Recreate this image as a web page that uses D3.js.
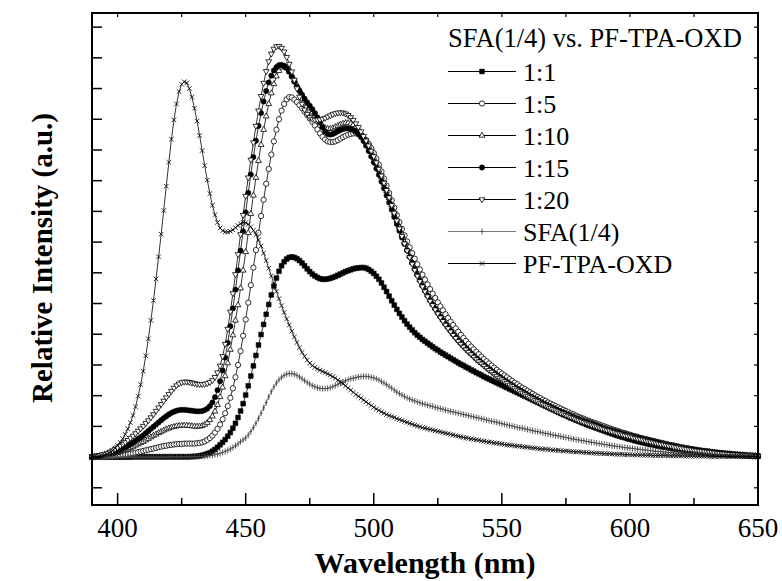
<!DOCTYPE html>
<html>
<head>
<meta charset="utf-8">
<script src="https://cdn.jsdelivr.net/npm/d3@7"></script>
<style>
  body { margin: 0; background: #fff; }
  text { font-family: "Liberation Serif", "Times New Roman", serif; fill: #000; }
</style>
</head>
<body>
<svg id="chart" width="782" height="581"></svg>
<script>
// sampling grid of the spectra, 1 nm
var wavelength = d3.range(390, 651);

// 1:1 (filled squares)
var r1 = [
  0, 0, 0, 0, 0, 0, 0, 0, 0, 0,
  0, 0, 0, 0, 0, 0, 0.01, 0.01, 0.01, 0.01,
  0.01, 0.01, 0.01, 0.01, 0.01, 0.01, 0.01, 0.01, 0.01, 0.01,
  0.01, 0.01, 0.01, 0.01, 0.01, 0.01, 0.01, 0.01, 0.01, 0.02,
  0.02, 0.03, 0.04, 0.06, 0.08, 0.11, 0.14, 0.19, 0.25, 0.32,
  0.4, 0.48, 0.57, 0.68, 0.8, 0.94, 1.1, 1.29, 1.5, 1.74,
  2.02, 2.32, 2.64, 2.97, 3.31, 3.65, 3.99, 4.32, 4.65, 4.97,
  5.28, 5.57, 5.83, 6.05, 6.23, 6.36, 6.45, 6.5, 6.52, 6.5,
  6.46, 6.4, 6.32, 6.23, 6.13, 6.04, 5.96, 5.9, 5.85, 5.81,
  5.79, 5.79, 5.8, 5.82, 5.85, 5.88, 5.92, 5.96, 6.0, 6.04,
  6.07, 6.1, 6.13, 6.15, 6.16, 6.17, 6.17, 6.15, 6.11, 6.05,
  5.98, 5.89, 5.79, 5.67, 5.53, 5.39, 5.24, 5.09, 4.95, 4.81,
  4.68, 4.56, 4.44, 4.33, 4.23, 4.14, 4.05, 3.97, 3.9, 3.83,
  3.77, 3.71, 3.65, 3.59, 3.53, 3.48, 3.42, 3.37, 3.32, 3.27,
  3.22, 3.17, 3.12, 3.07, 3.02, 2.98, 2.93, 2.89, 2.84, 2.8,
  2.75, 2.71, 2.67, 2.62, 2.58, 2.54, 2.5, 2.46, 2.42, 2.38,
  2.34, 2.3, 2.26, 2.22, 2.18, 2.14, 2.1, 2.06, 2.02, 1.98,
  1.94, 1.9, 1.86, 1.82, 1.78, 1.74, 1.7, 1.66, 1.62, 1.58,
  1.54, 1.5, 1.46, 1.42, 1.38, 1.35, 1.31, 1.27, 1.24, 1.2,
  1.17, 1.13, 1.1, 1.06, 1.03, 1.0, 0.97, 0.94, 0.91, 0.88,
  0.85, 0.82, 0.79, 0.76, 0.73, 0.7, 0.68, 0.65, 0.63, 0.6,
  0.58, 0.56, 0.53, 0.51, 0.49, 0.47, 0.45, 0.43, 0.41, 0.4,
  0.38, 0.36, 0.35, 0.33, 0.32, 0.3, 0.29, 0.27, 0.26, 0.25,
  0.24, 0.22, 0.21, 0.2, 0.19, 0.18, 0.17, 0.16, 0.15, 0.15,
  0.14, 0.13, 0.12, 0.12, 0.11, 0.1, 0.1, 0.09, 0.08, 0.08,
  0.07, 0.07, 0.06, 0.06, 0.05, 0.05, 0.05, 0.04, 0.04, 0.03,
  0.03
];

// 1:5 (open circles)
var r5 = [
  0, 0, 0.01, 0.01, 0.01, 0.02, 0.02, 0.03, 0.03, 0.04,
  0.05, 0.06, 0.07, 0.08, 0.09, 0.11, 0.12, 0.14, 0.16, 0.18,
  0.2, 0.22, 0.24, 0.26, 0.28, 0.3, 0.32, 0.34, 0.36, 0.37,
  0.39, 0.4, 0.41, 0.42, 0.43, 0.43, 0.44, 0.44, 0.44, 0.44,
  0.44, 0.45, 0.46, 0.48, 0.51, 0.56, 0.62, 0.7, 0.8, 0.92,
  1.06, 1.23, 1.43, 1.66, 1.93, 2.24, 2.6, 3.0, 3.45, 3.95,
  4.48, 5.03, 5.6, 6.17, 6.74, 7.3, 7.85, 8.38, 8.9, 9.38,
  9.85, 10.28, 10.66, 11.0, 11.28, 11.5, 11.65, 11.72, 11.71, 11.64,
  11.56, 11.46, 11.36, 11.25, 11.14, 11.03, 10.92, 10.8, 10.67, 10.54,
  10.43, 10.34, 10.28, 10.26, 10.26, 10.28, 10.32, 10.37, 10.42, 10.46,
  10.5, 10.52, 10.54, 10.54, 10.52, 10.48, 10.41, 10.32, 10.2, 10.06,
  9.9, 9.72, 9.52, 9.3, 9.07, 8.84, 8.6, 8.36, 8.12, 7.88,
  7.65, 7.43, 7.22, 7.02, 6.83, 6.64, 6.46, 6.28, 6.11, 5.94,
  5.78, 5.62, 5.47, 5.32, 5.18, 5.04, 4.91, 4.78, 4.65, 4.53,
  4.41, 4.3, 4.19, 4.08, 3.98, 3.88, 3.78, 3.69, 3.6, 3.51,
  3.43, 3.35, 3.27, 3.19, 3.12, 3.05, 2.98, 2.91, 2.84, 2.78,
  2.72, 2.66, 2.6, 2.54, 2.48, 2.42, 2.37, 2.31, 2.26, 2.21,
  2.16, 2.11, 2.06, 2.01, 1.96, 1.92, 1.87, 1.83, 1.78, 1.74,
  1.7, 1.66, 1.62, 1.58, 1.54, 1.5, 1.46, 1.42, 1.39, 1.35,
  1.31, 1.28, 1.25, 1.21, 1.18, 1.15, 1.12, 1.09, 1.06, 1.03,
  1.0, 0.97, 0.94, 0.91, 0.88, 0.86, 0.83, 0.8, 0.78, 0.75,
  0.73, 0.7, 0.68, 0.66, 0.63, 0.61, 0.59, 0.57, 0.55, 0.53,
  0.51, 0.49, 0.47, 0.45, 0.43, 0.41, 0.39, 0.38, 0.36, 0.34,
  0.32, 0.31, 0.29, 0.28, 0.26, 0.25, 0.24, 0.22, 0.21, 0.2,
  0.19, 0.18, 0.16, 0.15, 0.14, 0.13, 0.13, 0.12, 0.11, 0.1,
  0.09, 0.09, 0.08, 0.07, 0.07, 0.06, 0.05, 0.05, 0.04, 0.04,
  0.03
];

// 1:10 (open up-triangles)
var r10 = [
  0.01, 0.01, 0.02, 0.03, 0.04, 0.05, 0.06, 0.08, 0.1, 0.12,
  0.14, 0.17, 0.2, 0.23, 0.26, 0.3, 0.34, 0.38, 0.42, 0.46,
  0.5, 0.55, 0.6, 0.65, 0.7, 0.74, 0.79, 0.83, 0.87, 0.91,
  0.94, 0.97, 0.99, 1.01, 1.02, 1.03, 1.03, 1.03, 1.02, 1.01,
  1.0, 1.0, 1.0, 1.02, 1.06, 1.12, 1.21, 1.33, 1.49, 1.7,
  1.96, 2.27, 2.64, 3.06, 3.5, 3.97, 4.45, 4.95, 5.5, 6.08,
  6.68, 7.3, 7.92, 8.52, 9.1, 9.65, 10.17, 10.66, 11.1, 11.5,
  11.85, 12.15, 12.4, 12.58, 12.69, 12.72, 12.68, 12.58, 12.44, 12.28,
  12.12, 11.96, 11.8, 11.65, 11.5, 11.36, 11.23, 11.1, 10.98, 10.87,
  10.78, 10.72, 10.69, 10.69, 10.71, 10.75, 10.79, 10.83, 10.86, 10.88,
  10.88, 10.86, 10.82, 10.76, 10.68, 10.57, 10.44, 10.29, 10.12, 9.94,
  9.75, 9.55, 9.34, 9.12, 8.9, 8.67, 8.44, 8.2, 7.96, 7.72,
  7.49, 7.24, 7.0, 6.77, 6.55, 6.34, 6.14, 5.95, 5.77, 5.6,
  5.44, 5.28, 5.13, 4.99, 4.85, 4.72, 4.59, 4.47, 4.35, 4.24,
  4.13, 4.02, 3.92, 3.82, 3.73, 3.64, 3.55, 3.47, 3.39, 3.31,
  3.23, 3.16, 3.09, 3.02, 2.95, 2.88, 2.82, 2.75, 2.69, 2.63,
  2.57, 2.51, 2.46, 2.4, 2.35, 2.29, 2.24, 2.19, 2.14, 2.09,
  2.04, 1.99, 1.95, 1.9, 1.86, 1.81, 1.77, 1.73, 1.69, 1.65,
  1.61, 1.57, 1.53, 1.49, 1.46, 1.42, 1.39, 1.35, 1.32, 1.28,
  1.25, 1.22, 1.19, 1.16, 1.13, 1.1, 1.07, 1.04, 1.01, 0.98,
  0.95, 0.92, 0.9, 0.87, 0.85, 0.82, 0.8, 0.77, 0.75, 0.73,
  0.7, 0.68, 0.65, 0.63, 0.61, 0.59, 0.57, 0.55, 0.53, 0.51,
  0.49, 0.47, 0.45, 0.43, 0.41, 0.39, 0.38, 0.36, 0.34, 0.33,
  0.31, 0.29, 0.28, 0.26, 0.25, 0.24, 0.22, 0.21, 0.2, 0.19,
  0.18, 0.17, 0.16, 0.15, 0.14, 0.13, 0.12, 0.11, 0.1, 0.1,
  0.09, 0.08, 0.08, 0.07, 0.06, 0.06, 0.05, 0.05, 0.04, 0.04,
  0.03
];

// 1:15 (filled circles)
var r15 = [
  0.01, 0.02, 0.03, 0.04, 0.05, 0.07, 0.09, 0.11, 0.14, 0.17,
  0.2, 0.24, 0.28, 0.32, 0.37, 0.42, 0.47, 0.53, 0.59, 0.65,
  0.71, 0.78, 0.85, 0.92, 0.99, 1.06, 1.13, 1.2, 1.27, 1.33,
  1.39, 1.44, 1.48, 1.51, 1.53, 1.54, 1.54, 1.53, 1.52, 1.51,
  1.5, 1.49, 1.49, 1.5, 1.53, 1.58, 1.66, 1.78, 1.95, 2.18,
  2.47, 2.82, 3.24, 3.72, 4.26, 4.84, 5.45, 6.08, 6.72, 7.35,
  7.97, 8.6, 9.2, 9.77, 10.3, 10.78, 11.2, 11.58, 11.92, 12.2,
  12.42, 12.59, 12.7, 12.76, 12.77, 12.74, 12.66, 12.54, 12.39, 12.22,
  12.06, 11.93, 11.8, 11.67, 11.55, 11.44, 11.33, 11.2, 11.06, 10.9,
  10.74, 10.6, 10.52, 10.5, 10.52, 10.56, 10.61, 10.65, 10.68, 10.7,
  10.7, 10.68, 10.65, 10.6, 10.52, 10.42, 10.29, 10.14, 9.97, 9.79,
  9.6, 9.4, 9.19, 8.97, 8.75, 8.52, 8.29, 8.06, 7.82, 7.59,
  7.37, 7.15, 6.94, 6.73, 6.52, 6.32, 6.12, 5.93, 5.75, 5.58,
  5.42, 5.26, 5.11, 4.97, 4.83, 4.7, 4.57, 4.45, 4.33, 4.22,
  4.11, 4.0, 3.9, 3.8, 3.71, 3.62, 3.53, 3.45, 3.37, 3.29,
  3.21, 3.14, 3.07, 3.0, 2.93, 2.86, 2.8, 2.73, 2.67, 2.61,
  2.55, 2.49, 2.44, 2.38, 2.33, 2.27, 2.22, 2.17, 2.12, 2.07,
  2.02, 1.97, 1.93, 1.88, 1.84, 1.79, 1.75, 1.71, 1.67, 1.63,
  1.59, 1.55, 1.51, 1.47, 1.44, 1.4, 1.37, 1.33, 1.3, 1.26,
  1.23, 1.2, 1.17, 1.14, 1.11, 1.08, 1.05, 1.02, 0.99, 0.96,
  0.93, 0.9, 0.88, 0.85, 0.83, 0.8, 0.78, 0.75, 0.73, 0.71,
  0.69, 0.66, 0.64, 0.62, 0.6, 0.58, 0.56, 0.54, 0.52, 0.5,
  0.48, 0.46, 0.44, 0.42, 0.4, 0.38, 0.37, 0.35, 0.33, 0.32,
  0.3, 0.29, 0.27, 0.26, 0.25, 0.23, 0.22, 0.21, 0.2, 0.19,
  0.18, 0.17, 0.16, 0.15, 0.14, 0.13, 0.12, 0.11, 0.1, 0.1,
  0.09, 0.08, 0.08, 0.07, 0.06, 0.06, 0.05, 0.05, 0.04, 0.04,
  0.03
];

// 1:20 (open down-triangles)
var r20 = [
  0.02, 0.03, 0.04, 0.06, 0.08, 0.1, 0.13, 0.17, 0.21, 0.26,
  0.31, 0.36, 0.42, 0.48, 0.55, 0.62, 0.69, 0.77, 0.85, 0.93,
  1.01, 1.1, 1.19, 1.29, 1.39, 1.5, 1.61, 1.72, 1.83, 1.94,
  2.05, 2.15, 2.25, 2.33, 2.39, 2.43, 2.45, 2.45, 2.44, 2.42,
  2.4, 2.38, 2.37, 2.37, 2.38, 2.4, 2.44, 2.5, 2.6, 2.75,
  2.97, 3.28, 3.68, 4.17, 4.73, 5.33, 5.95, 6.6, 7.25, 7.88,
  8.5, 9.1, 9.68, 10.24, 10.78, 11.28, 11.75, 12.18, 12.56, 12.88,
  13.13, 13.29, 13.37, 13.38, 13.32, 13.2, 13.02, 12.8, 12.55, 12.28,
  12.0, 11.73, 11.5, 11.31, 11.17, 11.07, 11.01, 10.98, 10.98, 10.99,
  11.01, 11.04, 11.08, 11.12, 11.16, 11.19, 11.21, 11.22, 11.21, 11.18,
  11.13, 11.06, 10.97, 10.86, 10.74, 10.6, 10.45, 10.3, 10.14, 9.97,
  9.79, 9.59, 9.38, 9.16, 8.93, 8.69, 8.45, 8.2, 7.95, 7.7,
  7.44, 7.19, 6.95, 6.72, 6.5, 6.29, 6.09, 5.9, 5.72, 5.55,
  5.39, 5.23, 5.08, 4.94, 4.8, 4.67, 4.54, 4.42, 4.3, 4.19,
  4.08, 3.97, 3.87, 3.77, 3.68, 3.59, 3.5, 3.42, 3.34, 3.26,
  3.18, 3.11, 3.04, 2.97, 2.9, 2.83, 2.77, 2.7, 2.64, 2.58,
  2.52, 2.46, 2.41, 2.35, 2.3, 2.24, 2.19, 2.14, 2.09, 2.04,
  1.99, 1.94, 1.9, 1.85, 1.81, 1.76, 1.72, 1.68, 1.64, 1.6,
  1.56, 1.52, 1.48, 1.44, 1.41, 1.37, 1.34, 1.3, 1.27, 1.23,
  1.2, 1.17, 1.14, 1.11, 1.08, 1.05, 1.02, 0.99, 0.96, 0.93,
  0.91, 0.88, 0.86, 0.83, 0.81, 0.78, 0.76, 0.73, 0.71, 0.69,
  0.67, 0.64, 0.62, 0.6, 0.58, 0.56, 0.54, 0.52, 0.5, 0.48,
  0.46, 0.44, 0.42, 0.41, 0.39, 0.37, 0.36, 0.34, 0.32, 0.31,
  0.29, 0.28, 0.26, 0.25, 0.24, 0.22, 0.21, 0.2, 0.19, 0.18,
  0.17, 0.16, 0.15, 0.14, 0.13, 0.12, 0.11, 0.11, 0.1, 0.09,
  0.08, 0.08, 0.07, 0.07, 0.06, 0.06, 0.05, 0.05, 0.04, 0.04,
  0.03
];

// SFA(1/4) (plus marks, grey)
var sfa = [
  0, 0, 0, 0, 0, 0, 0, 0, 0, 0,
  0, 0, 0, 0, 0, 0, 0, 0, 0, 0,
  0, 0, 0, 0, 0, 0, 0, 0, 0, 0,
  0.01, 0.01, 0.01, 0.01, 0.01, 0.01, 0.01, 0.01, 0.01, 0.01,
  0.01, 0.01, 0.02, 0.02, 0.03, 0.04, 0.05, 0.06, 0.08, 0.1,
  0.12, 0.15, 0.18, 0.22, 0.26, 0.31, 0.37, 0.43, 0.5, 0.56,
  0.62, 0.72, 0.83, 0.96, 1.1, 1.26, 1.43, 1.6, 1.78, 1.96,
  2.13, 2.28, 2.41, 2.52, 2.6, 2.66, 2.7, 2.72, 2.72, 2.7,
  2.66, 2.61, 2.55, 2.49, 2.43, 2.38, 2.33, 2.29, 2.26, 2.24,
  2.23, 2.23, 2.24, 2.26, 2.29, 2.33, 2.37, 2.41, 2.45, 2.49,
  2.52, 2.55, 2.57, 2.59, 2.61, 2.62, 2.63, 2.63, 2.62, 2.6,
  2.58, 2.55, 2.51, 2.46, 2.41, 2.36, 2.3, 2.24, 2.18, 2.12,
  2.07, 2.02, 1.97, 1.93, 1.89, 1.86, 1.83, 1.8, 1.77, 1.74,
  1.72, 1.69, 1.67, 1.65, 1.62, 1.6, 1.58, 1.56, 1.53, 1.51,
  1.49, 1.47, 1.45, 1.43, 1.41, 1.39, 1.37, 1.35, 1.33, 1.31,
  1.29, 1.27, 1.25, 1.23, 1.21, 1.19, 1.17, 1.15, 1.13, 1.11,
  1.09, 1.07, 1.05, 1.03, 1.01, 0.99, 0.97, 0.95, 0.94, 0.92,
  0.9, 0.88, 0.86, 0.84, 0.83, 0.81, 0.79, 0.77, 0.76, 0.74,
  0.72, 0.7, 0.69, 0.67, 0.65, 0.64, 0.62, 0.6, 0.59, 0.57,
  0.56, 0.54, 0.53, 0.51, 0.5, 0.48, 0.47, 0.45, 0.44, 0.43,
  0.41, 0.4, 0.39, 0.37, 0.36, 0.35, 0.34, 0.32, 0.31, 0.3,
  0.29, 0.28, 0.27, 0.26, 0.25, 0.24, 0.23, 0.22, 0.21, 0.2,
  0.19, 0.18, 0.18, 0.17, 0.16, 0.15, 0.15, 0.14, 0.13, 0.13,
  0.12, 0.12, 0.11, 0.11, 0.1, 0.1, 0.09, 0.09, 0.08, 0.08,
  0.08, 0.07, 0.07, 0.07, 0.06, 0.06, 0.06, 0.05, 0.05, 0.05,
  0.05, 0.04, 0.04, 0.04, 0.04, 0.04, 0.03, 0.03, 0.03, 0.03,
  0.03
];

// PF-TPA-OXD (crosses)
var oxd = [
  0, 0.01, 0.01, 0.02, 0.04, 0.06, 0.1, 0.15, 0.21, 0.29,
  0.38, 0.48, 0.6, 0.74, 0.92, 1.12, 1.36, 1.64, 1.98, 2.36,
  2.8, 3.3, 3.85, 4.45, 5.1, 5.8, 6.52, 7.26, 8.03, 8.82,
  9.6, 10.35, 10.98, 11.5, 11.9, 12.14, 12.22, 12.18, 12.0, 11.72,
  11.36, 10.94, 10.47, 9.98, 9.49, 9.02, 8.58, 8.2, 7.89, 7.64,
  7.46, 7.37, 7.33, 7.33, 7.35, 7.4, 7.47, 7.54, 7.6, 7.64,
  7.63, 7.58, 7.5, 7.38, 7.24, 7.07, 6.87, 6.64, 6.4, 6.15,
  5.9, 5.65, 5.4, 5.16, 4.93, 4.71, 4.5, 4.3, 4.1, 3.91,
  3.73, 3.56, 3.41, 3.28, 3.16, 3.06, 2.98, 2.92, 2.87, 2.83,
  2.79, 2.75, 2.71, 2.67, 2.62, 2.57, 2.51, 2.45, 2.39, 2.32,
  2.25, 2.18, 2.11, 2.04, 1.98, 1.92, 1.86, 1.8, 1.74, 1.68,
  1.62, 1.57, 1.52, 1.47, 1.43, 1.39, 1.35, 1.32, 1.29, 1.25,
  1.22, 1.19, 1.16, 1.13, 1.1, 1.07, 1.04, 1.01, 0.99, 0.96,
  0.94, 0.92, 0.9, 0.88, 0.86, 0.84, 0.82, 0.8, 0.78, 0.76,
  0.74, 0.72, 0.7, 0.68, 0.66, 0.64, 0.63, 0.61, 0.59, 0.58,
  0.56, 0.55, 0.53, 0.52, 0.5, 0.49, 0.48, 0.46, 0.45, 0.44,
  0.43, 0.41, 0.4, 0.39, 0.38, 0.37, 0.36, 0.35, 0.34, 0.33,
  0.32, 0.31, 0.3, 0.29, 0.28, 0.27, 0.26, 0.26, 0.25, 0.24,
  0.23, 0.22, 0.22, 0.21, 0.2, 0.2, 0.19, 0.18, 0.18, 0.17,
  0.17, 0.16, 0.15, 0.15, 0.14, 0.14, 0.13, 0.13, 0.12, 0.12,
  0.11, 0.11, 0.11, 0.1, 0.1, 0.09, 0.09, 0.09, 0.08, 0.08,
  0.08, 0.07, 0.07, 0.07, 0.07, 0.06, 0.06, 0.06, 0.06, 0.05,
  0.05, 0.05, 0.05, 0.05, 0.05, 0.04, 0.04, 0.04, 0.04, 0.04,
  0.04, 0.04, 0.03, 0.03, 0.03, 0.03, 0.03, 0.03, 0.03, 0.03,
  0.03, 0.02, 0.02, 0.02, 0.02, 0.02, 0.02, 0.02, 0.02, 0.02,
  0.02, 0.02, 0.02, 0.02, 0.02, 0.02, 0.02, 0.02, 0.02, 0.02,
  0.02
];

var seriesNames = ['1:1', '1:5', '1:10', '1:15', '1:20', 'SFA(1/4)', 'PF-TPA-OXD'];
var legendTitle = 'SFA(1/4) vs. PF-TPA-OXD';
var xTickValues = [400, 450, 500, 550, 600, 650];
var yTickValues = d3.range(-1, 15);

var svg = d3.select('#chart');
var W = 782, H = 581;
var margin = {left: 92, right: 24, top: 13, bottom: 76};
var x0 = margin.left, x1 = W - margin.right, y0 = margin.top, y1 = H - margin.bottom;

var x = d3.scaleLinear().domain([390, 650]).range([x0, x1]);
var y = d3.scaleLinear().domain([-1.56, 14.46]).range([y1, y0]);

svg.append('rect').attr('width', W).attr('height', H).attr('fill', '#fff');

// marker shapes
var shapes = {
  square: 'M-2.4,-2.4h4.8v4.8h-4.8z',
  circle: d3.symbol(d3.symbolCircle, 22)(),
  triUp: 'M0,-3.3L2.9,1.7L-2.9,1.7Z',
  triDown: 'M0,3.3L2.9,-1.7L-2.9,-1.7Z',
  cross: 'M-2.3,-2.3L2.3,2.3M-2.3,2.3L2.3,-2.3',
  plus: 'M0,-3L0,3M-1.4,0L1.4,0'
};

var series = [
  {name: seriesNames[0], values: r1, shape: 'square', fill: '#000', stroke: '#000', line: '#000', sw: 0.5},
  {name: seriesNames[1], values: r5, shape: 'circle', fill: '#fff', stroke: '#000', line: '#000', sw: 0.8},
  {name: seriesNames[2], values: r10, shape: 'triUp', fill: '#fff', stroke: '#000', line: '#000', sw: 0.8},
  {name: seriesNames[3], values: r15, shape: 'circle', fill: '#000', stroke: '#000', line: '#000', sw: 0.5},
  {name: seriesNames[4], values: r20, shape: 'triDown', fill: '#fff', stroke: '#000', line: '#000', sw: 0.8},
  {name: seriesNames[5], values: sfa, shape: 'plus', fill: 'none', stroke: '#444', line: '#777', sw: 0.9},
  {name: seriesNames[6], values: oxd, shape: 'cross', fill: 'none', stroke: '#000', line: '#000', sw: 0.8}
];

var line = d3.line()
  .x(function(d) { return x(d.x); })
  .y(function(d) { return y(d.y); });

var plot = svg.append('g');
series.forEach(function(s) {
  var pts = wavelength.map(function(w, i) { return {x: w, y: s.values[i]}; });
  plot.append('path')
    .datum(pts)
    .attr('fill', 'none')
    .attr('stroke', s.line)
    .attr('stroke-width', 0.8)
    .attr('d', line);
  plot.selectAll(null)
    .data(pts)
    .enter()
    .append('path')
    .attr('transform', function(d) { return 'translate(' + x(d.x) + ',' + y(d.y) + ')'; })
    .attr('d', shapes[s.shape])
    .attr('fill', s.fill)
    .attr('stroke', s.stroke)
    .attr('stroke-width', s.sw);
});

// axes: bottom with labels, other sides with inner ticks only
var xMinor = d3.range(400, 651, 25);
var bottomAxis = svg.append('g').attr('transform', 'translate(0,' + y1 + ')');
bottomAxis.selectAll('line')
  .data(xMinor)
  .enter()
  .append('line')
  .attr('x1', function(d) { return x(d); })
  .attr('x2', function(d) { return x(d); })
  .attr('y1', 0)
  .attr('y2', function(d) { return d % 50 === 0 ? -12 : -7; })
  .attr('stroke', '#000')
  .attr('stroke-width', 1.5);
bottomAxis.selectAll('text')
  .data(xTickValues)
  .enter()
  .append('text')
  .attr('x', function(d) { return x(d); })
  .attr('y', 32)
  .attr('text-anchor', 'middle')
  .style('font-size', '27px')
  .text(function(d) { return d; });

var topAxis = svg.append('g').attr('transform', 'translate(0,' + y0 + ')');
topAxis.selectAll('line')
  .data(xMinor)
  .enter()
  .append('line')
  .attr('x1', function(d) { return x(d); })
  .attr('x2', function(d) { return x(d); })
  .attr('y1', 0)
  .attr('y2', 4)
  .attr('stroke', '#000')
  .attr('stroke-width', 1.2);

svg.append('g').selectAll('line')
  .data(yTickValues)
  .enter()
  .append('line')
  .attr('x1', x0)
  .attr('x2', x0 + 10)
  .attr('y1', function(d) { return y(d); })
  .attr('y2', function(d) { return y(d); })
  .attr('stroke', '#000')
  .attr('stroke-width', 1.5);

svg.append('g').selectAll('line')
  .data(yTickValues)
  .enter()
  .append('line')
  .attr('x1', x1)
  .attr('x2', x1 - 4)
  .attr('y1', function(d) { return y(d); })
  .attr('y2', function(d) { return y(d); })
  .attr('stroke', '#000')
  .attr('stroke-width', 1.2);

svg.append('rect')
  .attr('x', x0).attr('y', y0)
  .attr('width', x1 - x0).attr('height', y1 - y0)
  .attr('fill', 'none')
  .attr('stroke', '#000')
  .attr('stroke-width', 2);

// axis titles
svg.append('text')
  .attr('x', 425)
  .attr('y', 573)
  .attr('text-anchor', 'middle')
  .style('font-size', '30px')
  .style('font-weight', 'bold')
  .text('Wavelength (nm)');

svg.append('text')
  .attr('transform', 'translate(52,258) rotate(-90)')
  .attr('text-anchor', 'middle')
  .style('font-size', '29px')
  .style('font-weight', 'bold')
  .text('Relative Intensity (a.u.)');

// legend
var lg = svg.append('g');
lg.append('text')
  .attr('x', 448)
  .attr('y', 47)
  .style('font-size', '26.5px')
  .text(legendTitle);

var rows = lg.selectAll('g.row')
  .data(series)
  .enter()
  .append('g')
  .attr('class', 'row')
  .attr('transform', function(d, i) { return 'translate(0,' + (71.5 + i * 32) + ')'; });
rows.append('line')
  .attr('x1', 448).attr('x2', 516)
  .attr('y1', 0).attr('y2', 0)
  .attr('stroke', function(d) { return d.line; })
  .attr('stroke-width', 1);
rows.append('path')
  .attr('transform', 'translate(482,0)')
  .attr('d', function(d) { return shapes[d.shape]; })
  .attr('fill', function(d) { return d.fill; })
  .attr('stroke', function(d) { return d.stroke; })
  .attr('stroke-width', function(d) { return d.sw; });
rows.append('text')
  .attr('x', 523)
  .attr('y', 9)
  .style('font-size', '26px')
  .text(function(d) { return d.name; });
</script>
